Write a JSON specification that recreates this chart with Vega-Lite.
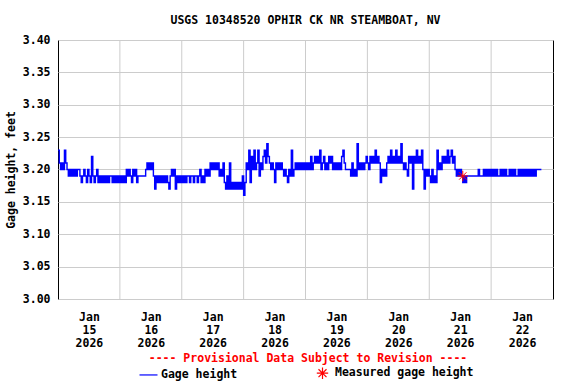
{
  "$schema": "https://vega.github.io/schema/vega-lite/v6.json",
  "width": 495,
  "height": 259,
  "autosize": {"type": "none"},
  "padding": {"left": 58, "top": 40, "right": 23, "bottom": 85},
  "background": "white",
  "title": {"text": "USGS 10348520 OPHIR CK NR STEAMBOAT, NV", "font": "DejaVu Sans Mono", "fontSize": 11.5, "fontWeight": "bold", "color": "black", "anchor": "middle", "offset": 8},
  "config": {
    "view": {"stroke": "black", "strokeWidth": 1},
    "font": "DejaVu Sans Mono",
    "axis": {"labelFont": "DejaVu Sans Mono", "labelFontWeight": "bold", "labelFontSize": 11.5, "labelColor": "black", "titleFont": "DejaVu Sans Mono", "titleFontWeight": "bold", "titleFontSize": 11.5, "titleColor": "black", "gridColor": "#cccccc", "gridWidth": 1},
    "axisY": {"values": [3.0, 3.05, 3.1, 3.15, 3.2, 3.25, 3.3, 3.35, 3.4], "format": ".2f", "ticks": false, "tickSize": 0, "domain": false, "grid": true, "labelPadding": 8, "titlePadding": 6, "labelFlush": false, "labelOverlap": false},
    "axisX": {"grid": false, "ticks": false, "tickSize": 0, "domain": false, "labelPadding": 12, "labelLineHeight": 13, "labelAlign": "center", "labelFlush": false, "labelOverlap": false}
  },
  "layer": [
    {
      "data": {"values": [
        {"t": "2026-01-16T00:00"}, {"t": "2026-01-17T00:00"}, {"t": "2026-01-18T00:00"}, {"t": "2026-01-19T00:00"}, {"t": "2026-01-20T00:00"}, {"t": "2026-01-21T00:00"}, {"t": "2026-01-22T00:00"}
      ]},
      "mark": {"type": "rule", "color": "#cccccc", "strokeWidth": 1},
      "encoding": {
        "x": {"field": "t", "type": "temporal", "scale": {"domain": [{"year": 2026, "month": 1, "date": 15}, {"year": 2026, "month": 1, "date": 23}]},
          "axis": {"title": null, "values": [{"year": 2026, "month": 1, "date": 15, "hours": 12}, {"year": 2026, "month": 1, "date": 16, "hours": 12}, {"year": 2026, "month": 1, "date": 17, "hours": 12}, {"year": 2026, "month": 1, "date": 18, "hours": 12}, {"year": 2026, "month": 1, "date": 19, "hours": 12}, {"year": 2026, "month": 1, "date": 20, "hours": 12}, {"year": 2026, "month": 1, "date": 21, "hours": 12}, {"year": 2026, "month": 1, "date": 22, "hours": 12}],
            "labelExpr": "[timeFormat(datum.value, '%b'), timeFormat(datum.value, '%d'), timeFormat(datum.value, '%Y')]"}}
      }
    },
    {
      "data": {"values": [
        {"t":"2026-01-15T00:00","v":3.23},{"t":"2026-01-15T00:30","v":3.21},{"t":"2026-01-15T01:00","v":3.20},{"t":"2026-01-15T01:30","v":3.21},{"t":"2026-01-15T02:00","v":3.20},{"t":"2026-01-15T02:30","v":3.23},{"t":"2026-01-15T03:00","v":3.21},{"t":"2026-01-15T03:30","v":3.20},{"t":"2026-01-15T04:00","v":3.19},{"t":"2026-01-15T04:30","v":3.20},{"t":"2026-01-15T05:00","v":3.19},{"t":"2026-01-15T05:30","v":3.20},{"t":"2026-01-15T06:00","v":3.19},{"t":"2026-01-15T06:30","v":3.20},{"t":"2026-01-15T07:00","v":3.19},{"t":"2026-01-15T07:30","v":3.20},{"t":"2026-01-15T08:00","v":3.20},{"t":"2026-01-15T08:30","v":3.19},{"t":"2026-01-15T09:00","v":3.18},{"t":"2026-01-15T09:30","v":3.19},{"t":"2026-01-15T10:00","v":3.20},{"t":"2026-01-15T10:30","v":3.19},{"t":"2026-01-15T11:00","v":3.18},{"t":"2026-01-15T11:30","v":3.20},{"t":"2026-01-15T12:00","v":3.19},{"t":"2026-01-15T12:30","v":3.18},{"t":"2026-01-15T13:00","v":3.22},{"t":"2026-01-15T13:30","v":3.19},{"t":"2026-01-15T14:00","v":3.18},{"t":"2026-01-15T14:30","v":3.19},{"t":"2026-01-15T15:00","v":3.20},{"t":"2026-01-15T15:30","v":3.18},{"t":"2026-01-15T16:00","v":3.19},{"t":"2026-01-15T16:30","v":3.18},{"t":"2026-01-15T17:00","v":3.19},{"t":"2026-01-15T17:30","v":3.18},{"t":"2026-01-15T18:00","v":3.19},{"t":"2026-01-15T18:30","v":3.18},{"t":"2026-01-15T19:00","v":3.19},{"t":"2026-01-15T19:30","v":3.18},{"t":"2026-01-15T20:00","v":3.19},{"t":"2026-01-15T20:30","v":3.19},{"t":"2026-01-15T21:00","v":3.18},{"t":"2026-01-15T21:30","v":3.19},{"t":"2026-01-15T22:00","v":3.18},{"t":"2026-01-15T22:30","v":3.19},{"t":"2026-01-15T23:00","v":3.18},{"t":"2026-01-15T23:30","v":3.19},
        {"t":"2026-01-16T00:00","v":3.18},{"t":"2026-01-16T00:30","v":3.19},{"t":"2026-01-16T01:00","v":3.18},{"t":"2026-01-16T01:30","v":3.19},{"t":"2026-01-16T02:00","v":3.18},{"t":"2026-01-16T02:30","v":3.20},{"t":"2026-01-16T03:00","v":3.19},{"t":"2026-01-16T03:30","v":3.20},{"t":"2026-01-16T04:00","v":3.19},{"t":"2026-01-16T04:30","v":3.18},{"t":"2026-01-16T05:00","v":3.20},{"t":"2026-01-16T05:30","v":3.19},{"t":"2026-01-16T06:00","v":3.20},{"t":"2026-01-16T06:30","v":3.18},{"t":"2026-01-16T07:00","v":3.19},{"t":"2026-01-16T07:30","v":3.19},{"t":"2026-01-16T08:00","v":3.19},{"t":"2026-01-16T08:30","v":3.19},{"t":"2026-01-16T09:00","v":3.19},{"t":"2026-01-16T09:30","v":3.19},{"t":"2026-01-16T10:00","v":3.20},{"t":"2026-01-16T10:30","v":3.21},{"t":"2026-01-16T11:00","v":3.20},{"t":"2026-01-16T11:30","v":3.21},{"t":"2026-01-16T12:00","v":3.20},{"t":"2026-01-16T12:30","v":3.21},{"t":"2026-01-16T13:00","v":3.19},{"t":"2026-01-16T13:30","v":3.17},{"t":"2026-01-16T14:00","v":3.19},{"t":"2026-01-16T14:30","v":3.18},{"t":"2026-01-16T15:00","v":3.19},{"t":"2026-01-16T15:30","v":3.18},{"t":"2026-01-16T16:00","v":3.19},{"t":"2026-01-16T16:30","v":3.18},{"t":"2026-01-16T17:00","v":3.19},{"t":"2026-01-16T17:30","v":3.18},{"t":"2026-01-16T18:00","v":3.19},{"t":"2026-01-16T18:30","v":3.18},{"t":"2026-01-16T19:00","v":3.17},{"t":"2026-01-16T19:30","v":3.19},{"t":"2026-01-16T20:00","v":3.20},{"t":"2026-01-16T20:30","v":3.19},{"t":"2026-01-16T21:00","v":3.20},{"t":"2026-01-16T21:30","v":3.17},{"t":"2026-01-16T22:00","v":3.19},{"t":"2026-01-16T22:30","v":3.18},{"t":"2026-01-16T23:00","v":3.19},{"t":"2026-01-16T23:30","v":3.18},
        {"t":"2026-01-17T00:00","v":3.19},{"t":"2026-01-17T00:30","v":3.18},{"t":"2026-01-17T01:00","v":3.19},{"t":"2026-01-17T01:30","v":3.18},{"t":"2026-01-17T02:00","v":3.19},{"t":"2026-01-17T02:30","v":3.19},{"t":"2026-01-17T03:00","v":3.18},{"t":"2026-01-17T03:30","v":3.19},{"t":"2026-01-17T04:00","v":3.19},{"t":"2026-01-17T04:30","v":3.18},{"t":"2026-01-17T05:00","v":3.19},{"t":"2026-01-17T05:30","v":3.19},{"t":"2026-01-17T06:00","v":3.18},{"t":"2026-01-17T06:30","v":3.19},{"t":"2026-01-17T07:00","v":3.20},{"t":"2026-01-17T07:30","v":3.18},{"t":"2026-01-17T08:00","v":3.19},{"t":"2026-01-17T08:30","v":3.18},{"t":"2026-01-17T09:00","v":3.20},{"t":"2026-01-17T09:30","v":3.19},{"t":"2026-01-17T10:00","v":3.20},{"t":"2026-01-17T10:30","v":3.19},{"t":"2026-01-17T11:00","v":3.21},{"t":"2026-01-17T11:30","v":3.20},{"t":"2026-01-17T12:00","v":3.21},{"t":"2026-01-17T12:30","v":3.20},{"t":"2026-01-17T13:00","v":3.21},{"t":"2026-01-17T13:30","v":3.20},{"t":"2026-01-17T14:00","v":3.21},{"t":"2026-01-17T14:30","v":3.19},{"t":"2026-01-17T15:00","v":3.20},{"t":"2026-01-17T15:30","v":3.19},{"t":"2026-01-17T16:00","v":3.21},{"t":"2026-01-17T16:30","v":3.18},{"t":"2026-01-17T17:00","v":3.17},{"t":"2026-01-17T17:30","v":3.19},{"t":"2026-01-17T18:00","v":3.17},{"t":"2026-01-17T18:30","v":3.21},{"t":"2026-01-17T19:00","v":3.17},{"t":"2026-01-17T19:30","v":3.18},{"t":"2026-01-17T20:00","v":3.17},{"t":"2026-01-17T20:30","v":3.18},{"t":"2026-01-17T21:00","v":3.17},{"t":"2026-01-17T21:30","v":3.18},{"t":"2026-01-17T22:00","v":3.17},{"t":"2026-01-17T22:30","v":3.18},{"t":"2026-01-17T23:00","v":3.17},{"t":"2026-01-17T23:30","v":3.19},
        {"t":"2026-01-18T00:00","v":3.16},{"t":"2026-01-18T00:30","v":3.18},{"t":"2026-01-18T01:00","v":3.21},{"t":"2026-01-18T01:30","v":3.20},{"t":"2026-01-18T02:00","v":3.23},{"t":"2026-01-18T02:30","v":3.18},{"t":"2026-01-18T03:00","v":3.22},{"t":"2026-01-18T03:30","v":3.20},{"t":"2026-01-18T04:00","v":3.23},{"t":"2026-01-18T04:30","v":3.20},{"t":"2026-01-18T05:00","v":3.21},{"t":"2026-01-18T05:30","v":3.23},{"t":"2026-01-18T06:00","v":3.19},{"t":"2026-01-18T06:30","v":3.21},{"t":"2026-01-18T07:00","v":3.20},{"t":"2026-01-18T07:30","v":3.22},{"t":"2026-01-18T08:00","v":3.23},{"t":"2026-01-18T08:30","v":3.21},{"t":"2026-01-18T09:00","v":3.24},{"t":"2026-01-18T09:30","v":3.22},{"t":"2026-01-18T10:00","v":3.21},{"t":"2026-01-18T10:30","v":3.20},{"t":"2026-01-18T11:00","v":3.21},{"t":"2026-01-18T11:30","v":3.20},{"t":"2026-01-18T12:00","v":3.18},{"t":"2026-01-18T12:30","v":3.21},{"t":"2026-01-18T13:00","v":3.20},{"t":"2026-01-18T13:30","v":3.21},{"t":"2026-01-18T14:00","v":3.20},{"t":"2026-01-18T14:30","v":3.21},{"t":"2026-01-18T15:00","v":3.20},{"t":"2026-01-18T15:30","v":3.19},{"t":"2026-01-18T16:00","v":3.20},{"t":"2026-01-18T16:30","v":3.19},{"t":"2026-01-18T17:00","v":3.18},{"t":"2026-01-18T17:30","v":3.20},{"t":"2026-01-18T18:00","v":3.19},{"t":"2026-01-18T18:30","v":3.23},{"t":"2026-01-18T19:00","v":3.19},{"t":"2026-01-18T19:30","v":3.20},{"t":"2026-01-18T20:00","v":3.21},{"t":"2026-01-18T20:30","v":3.20},{"t":"2026-01-18T21:00","v":3.21},{"t":"2026-01-18T21:30","v":3.20},{"t":"2026-01-18T22:00","v":3.21},{"t":"2026-01-18T22:30","v":3.20},{"t":"2026-01-18T23:00","v":3.21},{"t":"2026-01-18T23:30","v":3.20},
        {"t":"2026-01-19T00:00","v":3.21},{"t":"2026-01-19T00:30","v":3.20},{"t":"2026-01-19T01:00","v":3.21},{"t":"2026-01-19T01:30","v":3.20},{"t":"2026-01-19T02:00","v":3.22},{"t":"2026-01-19T02:30","v":3.20},{"t":"2026-01-19T03:00","v":3.21},{"t":"2026-01-19T03:30","v":3.22},{"t":"2026-01-19T04:00","v":3.21},{"t":"2026-01-19T04:30","v":3.22},{"t":"2026-01-19T05:00","v":3.21},{"t":"2026-01-19T05:30","v":3.23},{"t":"2026-01-19T06:00","v":3.20},{"t":"2026-01-19T06:30","v":3.21},{"t":"2026-01-19T07:00","v":3.22},{"t":"2026-01-19T07:30","v":3.20},{"t":"2026-01-19T08:00","v":3.21},{"t":"2026-01-19T08:30","v":3.20},{"t":"2026-01-19T09:00","v":3.22},{"t":"2026-01-19T09:30","v":3.21},{"t":"2026-01-19T10:00","v":3.22},{"t":"2026-01-19T10:30","v":3.20},{"t":"2026-01-19T11:00","v":3.21},{"t":"2026-01-19T11:30","v":3.20},{"t":"2026-01-19T12:00","v":3.21},{"t":"2026-01-19T12:30","v":3.20},{"t":"2026-01-19T13:00","v":3.21},{"t":"2026-01-19T13:30","v":3.20},{"t":"2026-01-19T14:00","v":3.22},{"t":"2026-01-19T14:30","v":3.23},{"t":"2026-01-19T15:00","v":3.21},{"t":"2026-01-19T15:30","v":3.20},{"t":"2026-01-19T16:00","v":3.20},{"t":"2026-01-19T16:30","v":3.20},{"t":"2026-01-19T17:00","v":3.20},{"t":"2026-01-19T17:30","v":3.19},{"t":"2026-01-19T18:00","v":3.21},{"t":"2026-01-19T18:30","v":3.19},{"t":"2026-01-19T19:00","v":3.20},{"t":"2026-01-19T19:30","v":3.19},{"t":"2026-01-19T20:00","v":3.24},{"t":"2026-01-19T20:30","v":3.20},{"t":"2026-01-19T21:00","v":3.21},{"t":"2026-01-19T21:30","v":3.20},{"t":"2026-01-19T22:00","v":3.21},{"t":"2026-01-19T22:30","v":3.20},{"t":"2026-01-19T23:00","v":3.21},{"t":"2026-01-19T23:30","v":3.22},
        {"t":"2026-01-20T00:00","v":3.21},{"t":"2026-01-20T00:30","v":3.20},{"t":"2026-01-20T01:00","v":3.22},{"t":"2026-01-20T01:30","v":3.21},{"t":"2026-01-20T02:00","v":3.22},{"t":"2026-01-20T02:30","v":3.21},{"t":"2026-01-20T03:00","v":3.23},{"t":"2026-01-20T03:30","v":3.21},{"t":"2026-01-20T04:00","v":3.22},{"t":"2026-01-20T04:30","v":3.21},{"t":"2026-01-20T05:00","v":3.18},{"t":"2026-01-20T05:30","v":3.20},{"t":"2026-01-20T06:00","v":3.19},{"t":"2026-01-20T06:30","v":3.20},{"t":"2026-01-20T07:00","v":3.19},{"t":"2026-01-20T07:30","v":3.21},{"t":"2026-01-20T08:00","v":3.22},{"t":"2026-01-20T08:30","v":3.21},{"t":"2026-01-20T09:00","v":3.23},{"t":"2026-01-20T09:30","v":3.21},{"t":"2026-01-20T10:00","v":3.22},{"t":"2026-01-20T10:30","v":3.21},{"t":"2026-01-20T11:00","v":3.23},{"t":"2026-01-20T11:30","v":3.21},{"t":"2026-01-20T12:00","v":3.22},{"t":"2026-01-20T12:30","v":3.21},{"t":"2026-01-20T13:00","v":3.24},{"t":"2026-01-20T13:30","v":3.21},{"t":"2026-01-20T14:00","v":3.20},{"t":"2026-01-20T14:30","v":3.21},{"t":"2026-01-20T15:00","v":3.20},{"t":"2026-01-20T15:30","v":3.19},{"t":"2026-01-20T16:00","v":3.22},{"t":"2026-01-20T16:30","v":3.21},{"t":"2026-01-20T17:00","v":3.22},{"t":"2026-01-20T17:30","v":3.17},{"t":"2026-01-20T18:00","v":3.22},{"t":"2026-01-20T18:30","v":3.21},{"t":"2026-01-20T19:00","v":3.23},{"t":"2026-01-20T19:30","v":3.21},{"t":"2026-01-20T20:00","v":3.22},{"t":"2026-01-20T20:30","v":3.21},{"t":"2026-01-20T21:00","v":3.23},{"t":"2026-01-20T21:30","v":3.20},{"t":"2026-01-20T22:00","v":3.17},{"t":"2026-01-20T22:30","v":3.20},{"t":"2026-01-20T23:00","v":3.19},{"t":"2026-01-20T23:30","v":3.20},
        {"t":"2026-01-21T00:00","v":3.19},{"t":"2026-01-21T00:30","v":3.18},{"t":"2026-01-21T01:00","v":3.20},{"t":"2026-01-21T01:30","v":3.18},{"t":"2026-01-21T02:00","v":3.19},{"t":"2026-01-21T02:30","v":3.18},{"t":"2026-01-21T03:00","v":3.23},{"t":"2026-01-21T03:30","v":3.20},{"t":"2026-01-21T04:00","v":3.21},{"t":"2026-01-21T04:30","v":3.20},{"t":"2026-01-21T05:00","v":3.22},{"t":"2026-01-21T05:30","v":3.21},{"t":"2026-01-21T06:00","v":3.22},{"t":"2026-01-21T06:30","v":3.21},{"t":"2026-01-21T07:00","v":3.23},{"t":"2026-01-21T07:30","v":3.21},{"t":"2026-01-21T08:00","v":3.22},{"t":"2026-01-21T08:30","v":3.23},{"t":"2026-01-21T09:00","v":3.21},{"t":"2026-01-21T09:30","v":3.22},{"t":"2026-01-21T10:00","v":3.20},{"t":"2026-01-21T10:30","v":3.19},{"t":"2026-01-21T11:00","v":3.20},{"t":"2026-01-21T11:30","v":3.19},{"t":"2026-01-21T12:00","v":3.20},{"t":"2026-01-21T12:30","v":3.19},{"t":"2026-01-21T13:00","v":3.18},{"t":"2026-01-21T13:30","v":3.19},{"t":"2026-01-21T14:00","v":3.18},{"t":"2026-01-21T14:30","v":3.19},{"t":"2026-01-21T15:00","v":3.19},{"t":"2026-01-21T15:30","v":3.19},{"t":"2026-01-21T16:00","v":3.19},{"t":"2026-01-21T16:30","v":3.19},{"t":"2026-01-21T17:00","v":3.19},{"t":"2026-01-21T17:30","v":3.19},{"t":"2026-01-21T18:00","v":3.19},{"t":"2026-01-21T18:30","v":3.19},{"t":"2026-01-21T19:00","v":3.20},{"t":"2026-01-21T19:30","v":3.19},{"t":"2026-01-21T20:00","v":3.19},{"t":"2026-01-21T20:30","v":3.19},{"t":"2026-01-21T21:00","v":3.20},{"t":"2026-01-21T21:30","v":3.19},{"t":"2026-01-21T22:00","v":3.20},{"t":"2026-01-21T22:30","v":3.19},{"t":"2026-01-21T23:00","v":3.20},{"t":"2026-01-21T23:30","v":3.19},
        {"t":"2026-01-22T00:00","v":3.20},{"t":"2026-01-22T00:30","v":3.19},{"t":"2026-01-22T01:00","v":3.20},{"t":"2026-01-22T01:30","v":3.19},{"t":"2026-01-22T02:00","v":3.20},{"t":"2026-01-22T02:30","v":3.19},{"t":"2026-01-22T03:00","v":3.19},{"t":"2026-01-22T03:30","v":3.20},{"t":"2026-01-22T04:00","v":3.19},{"t":"2026-01-22T04:30","v":3.20},{"t":"2026-01-22T05:00","v":3.19},{"t":"2026-01-22T05:30","v":3.20},{"t":"2026-01-22T06:00","v":3.19},{"t":"2026-01-22T06:30","v":3.19},{"t":"2026-01-22T07:00","v":3.20},{"t":"2026-01-22T07:30","v":3.19},{"t":"2026-01-22T08:00","v":3.20},{"t":"2026-01-22T08:30","v":3.19},{"t":"2026-01-22T09:00","v":3.20},{"t":"2026-01-22T09:30","v":3.19},{"t":"2026-01-22T10:00","v":3.19},{"t":"2026-01-22T10:30","v":3.20},{"t":"2026-01-22T11:00","v":3.19},{"t":"2026-01-22T11:30","v":3.20},{"t":"2026-01-22T12:00","v":3.19},{"t":"2026-01-22T12:30","v":3.20},{"t":"2026-01-22T13:00","v":3.19},{"t":"2026-01-22T13:30","v":3.20},{"t":"2026-01-22T14:00","v":3.19},{"t":"2026-01-22T14:30","v":3.20},{"t":"2026-01-22T15:00","v":3.19},{"t":"2026-01-22T15:30","v":3.20},{"t":"2026-01-22T16:00","v":3.19},{"t":"2026-01-22T16:30","v":3.20},{"t":"2026-01-22T17:00","v":3.19},{"t":"2026-01-22T17:30","v":3.20},{"t":"2026-01-22T18:00","v":3.20},{"t":"2026-01-22T18:30","v":3.20},{"t":"2026-01-22T19:00","v":3.20},{"t":"2026-01-22T19:30","v":3.20}
      ]},
      "mark": {"type": "line", "strokeWidth": 1.4, "interpolate": "step-after"},
      "encoding": {
        "x": {"field": "t", "type": "temporal", "scale": {"domain": [{"year": 2026, "month": 1, "date": 15}, {"year": 2026, "month": 1, "date": 23}]},
          "axis": {"title": null, "values": [{"year": 2026, "month": 1, "date": 15, "hours": 12}, {"year": 2026, "month": 1, "date": 16, "hours": 12}, {"year": 2026, "month": 1, "date": 17, "hours": 12}, {"year": 2026, "month": 1, "date": 18, "hours": 12}, {"year": 2026, "month": 1, "date": 19, "hours": 12}, {"year": 2026, "month": 1, "date": 20, "hours": 12}, {"year": 2026, "month": 1, "date": 21, "hours": 12}, {"year": 2026, "month": 1, "date": 22, "hours": 12}],
            "labelExpr": "[timeFormat(datum.value, '%b'), timeFormat(datum.value, '%d'), timeFormat(datum.value, '%Y')]"}},
        "y": {"field": "v", "type": "quantitative", "scale": {"domain": [3.0, 3.4], "nice": false, "zero": false},
          "axis": {"title": "Gage height, feet", "values": [3.0, 3.05, 3.1, 3.15, 3.2, 3.25, 3.3, 3.35, 3.4], "format": ".2f"}},
        "color": {
          "datum": "Gage height",
          "scale": {"domain": ["Gage height", "Measured gage height"], "range": ["#0000ff", "#ff0000"]},
          "legend": {
            "orient": "none", "legendX": 84, "legendY": 313, "direction": "horizontal",
            "title": "---- Provisional Data Subject to Revision ----",
            "titleColor": "#ff0000", "titleFont": "DejaVu Sans Mono", "titleFontSize": 11.5, "titleFontWeight": "bold",
            "titleAnchor": "middle", "titlePadding": 2, "titleLimit": 500,
            "labelFont": "DejaVu Sans Mono", "labelFontSize": 11.5, "labelFontWeight": "bold", "labelColor": "black", "labelLimit": 300,
            "columnPadding": 76, "labelOffset": 6, "symbolStrokeWidth": 1.2,
            "encode": {
              "symbols": {
                "update": {
                  "shape": {"signal": "datum.value === 'Gage height' ? 'M-1,0.05L1,0.05' : 'M-1,0L1,0M0,-1L0,1M-0.7,-0.7L0.7,0.7M-0.7,0.7L0.7,-0.7'"},
                  "size": {"signal": "datum.value === 'Gage height' ? 324 : 130"},
                  "fill": {"value": "transparent"},
                  "stroke": {"signal": "datum.value === 'Gage height' ? '#0000ff' : '#ff0000'"},
                  "strokeWidth": {"value": 1.2},
                  "opacity": {"value": 1}
                }
              }
            }
          }
        }
      }
    },
    {
      "data": {"values": [{"t": "2026-01-21T13:00", "v": 3.19}]},
      "mark": {"type": "point", "shape": "M-1,0L1,0M0,-1L0,1M-0.7,-0.7L0.7,0.7M-0.7,0.7L0.7,-0.7", "filled": false, "strokeWidth": 1, "size": 110, "opacity": 1},
      "encoding": {
        "x": {"field": "t", "type": "temporal", "scale": {"domain": [{"year": 2026, "month": 1, "date": 15}, {"year": 2026, "month": 1, "date": 23}]}},
        "y": {"field": "v", "type": "quantitative", "scale": {"domain": [3.0, 3.4], "nice": false, "zero": false},
          "axis": {"title": "Gage height, feet", "values": [3.0, 3.05, 3.1, 3.15, 3.2, 3.25, 3.3, 3.35, 3.4], "format": ".2f"}},
        "color": {"datum": "Measured gage height"}
      }
    }
  ]
}
